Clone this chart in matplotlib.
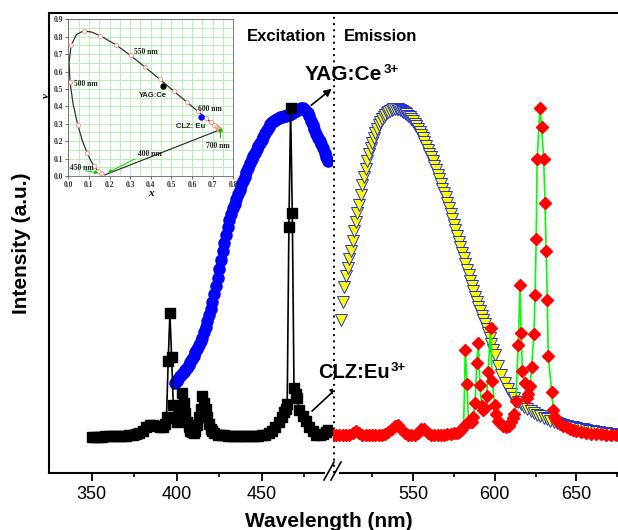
import numpy as np
import matplotlib
matplotlib.use('Agg')
import matplotlib.pyplot as plt
from matplotlib.lines import Line2D

plt.rcParams['font.family'] = ['Liberation Sans', 'DejaVu Sans']

# CLZ:Eu3+ excitation (black squares)
clz_ex_nm = [350, 352, 354, 356, 358, 360, 362, 364, 366, 368, 370, 372, 374, 376, 378,
             380, 382, 384, 386, 388, 390, 392,
             393, 394, 395, 396, 397, 398, 399,
             400, 401, 402, 403, 404, 405, 406, 407, 408, 409, 410,
             411, 412, 413, 414, 415, 416, 417, 418, 419, 420, 421, 422,
             424, 426, 428, 430, 432, 434, 436, 438, 440, 442, 444, 446, 448, 450, 452, 454, 456, 458, 460, 462,
             463, 464, 465, 466, 467, 468, 469, 470, 471, 472,
             474, 476, 478, 480, 482, 484, 486, 488, 489]
clz_ex = [0.0, 0.0, 0.001, 0.001, 0.002, 0.002, 0.003, 0.003, 0.003, 0.004, 0.004, 0.005, 0.007, 0.009, 0.012,
          0.02, 0.03, 0.036, 0.037, 0.035, 0.03, 0.032,
          0.04, 0.061, 0.231, 0.377, 0.243, 0.097, 0.058,
          0.045, 0.062, 0.085, 0.134, 0.103, 0.073, 0.045, 0.03, 0.02, 0.015, 0.014,
          0.02, 0.036, 0.06, 0.085, 0.125, 0.105, 0.085, 0.061, 0.04, 0.025, 0.018, 0.012,
          0.008, 0.006, 0.005, 0.004, 0.004, 0.003, 0.003, 0.003, 0.003, 0.003, 0.003, 0.004, 0.004, 0.005,
          0.008, 0.012, 0.02, 0.03, 0.045, 0.062,
          0.076, 0.085, 0.10, 0.64, 1.0, 0.68, 0.149, 0.13, 0.118, 0.082,
          0.065, 0.05, 0.03, 0.018, 0.008, 0.006, 0.01, 0.015, 0.021]

# YAG:Ce3+ excitation (blue circles)
yag_ex_nm = list(range(399, 490))
yag_ex = [0.164, 0.171, 0.178, 0.185, 0.192, 0.198, 0.204, 0.211, 0.218, 0.227,
          0.236, 0.247, 0.258, 0.269, 0.28, 0.291, 0.302, 0.318, 0.335, 0.353,
          0.371, 0.39, 0.41, 0.435, 0.46, 0.485, 0.51, 0.538, 0.565, 0.59,
          0.615, 0.638, 0.66, 0.678, 0.695, 0.71, 0.725, 0.738, 0.751, 0.765,
          0.778, 0.792, 0.805, 0.819, 0.833, 0.844, 0.855, 0.865, 0.875, 0.885,
          0.894, 0.903, 0.912, 0.923, 0.933, 0.943, 0.952, 0.957, 0.962, 0.965,
          0.968, 0.97, 0.972, 0.974, 0.975, 0.977, 0.978, 0.98, 0.983, 0.985,
          0.988, 0.991, 0.994, 0.997, 1.0, 1.0, 0.998, 0.992, 0.985, 0.975,
          0.962, 0.949, 0.935, 0.922, 0.91, 0.9, 0.89, 0.878, 0.865, 0.852,
          0.84]

# YAG:Ce3+ emission (yellow triangles)
yag_em_nm = list(range(506, 601)) + list(range(602, 681, 2))
yag_em = [0.356, 0.41, 0.455, 0.49, 0.515, 0.54, 0.565, 0.595, 0.625, 0.655,
          0.68, 0.705, 0.735, 0.765, 0.79, 0.815, 0.84, 0.86, 0.878, 0.895,
          0.91, 0.925, 0.937, 0.948, 0.958, 0.966, 0.974, 0.98, 0.985, 0.989,
          0.992, 0.994, 0.996, 0.997, 0.997, 0.996, 0.994, 0.992, 0.989, 0.986,
          0.982, 0.977, 0.972, 0.966, 0.96, 0.953, 0.945, 0.937, 0.928, 0.918,
          0.908, 0.897, 0.886, 0.874, 0.862, 0.85, 0.838, 0.825, 0.812, 0.798,
          0.784, 0.77, 0.755, 0.742, 0.73, 0.713, 0.696, 0.679, 0.662, 0.645,
          0.628, 0.611, 0.594, 0.577, 0.56, 0.543, 0.526, 0.509, 0.492, 0.475,
          0.459, 0.443, 0.427, 0.411, 0.395, 0.382, 0.369, 0.356, 0.343, 0.33,
          0.315, 0.30, 0.283, 0.266, 0.25,
          0.217, 0.19, 0.165, 0.146, 0.13, 0.118, 0.108, 0.1, 0.092, 0.085,
          0.079, 0.073, 0.068, 0.063, 0.058, 0.054, 0.05, 0.046, 0.043, 0.04,
          0.037, 0.035, 0.032, 0.03, 0.028, 0.026, 0.024, 0.022, 0.02, 0.018,
          0.017, 0.015, 0.014, 0.013, 0.011, 0.01, 0.008, 0.007, 0.006, 0.005]

# CLZ:Eu3+ emission (red diamonds)
clz_em_nm = list(range(501, 578, 2)) + [
    578, 579, 580, 581, 582, 583, 584, 585, 586, 587,
    588, 589, 590, 591, 592, 593, 594, 595, 596, 597.5,
    598.5, 600, 601, 602, 603, 605, 607, 609, 610, 611,
    612, 613, 614.4, 615.5, 616.2, 617, 618.5, 619.5, 620.5, 621.6,
    622.6, 624.0, 624.7, 625.4, 626.0, 627.7, 628.7, 630.0, 630.8, 631.5,
    632.2, 632.8, 634.9, 635.9, 637, 638, 640, 642, 644, 646,
    648, 650, 653, 656, 659, 662, 665, 668, 671, 674, 677, 680]
clz_em = [0.008, 0.006, 0.006, 0.005, 0.006, 0.008, 0.012, 0.018, 0.012, 0.008,
          0.006, 0.006, 0.007, 0.006, 0.006, 0.008, 0.01, 0.015, 0.025, 0.035,
          0.036, 0.022, 0.012, 0.008, 0.007, 0.008, 0.012, 0.024, 0.026, 0.012,
          0.008, 0.007, 0.007, 0.007, 0.008, 0.009, 0.01, 0.012, 0.014,
          0.016, 0.02, 0.025, 0.035, 0.264, 0.163, 0.05, 0.045, 0.047, 0.06,
          0.103, 0.226, 0.287, 0.158, 0.095, 0.082, 0.09, 0.124, 0.198, 0.331,
          0.17, 0.097, 0.07, 0.05, 0.042, 0.035, 0.031, 0.035, 0.045, 0.058,
          0.07, 0.11, 0.28, 0.462, 0.316, 0.2, 0.164, 0.12, 0.13, 0.155,
          0.213, 0.313, 0.432, 0.601, 0.844, 1.0, 0.943, 0.844, 0.711, 0.566,
          0.416, 0.246, 0.138, 0.082, 0.06, 0.05, 0.04, 0.035, 0.03, 0.026,
          0.022, 0.018, 0.015, 0.013, 0.011, 0.01, 0.009, 0.008, 0.008, 0.007, 0.007, 0.007]

# CIE 1931 spectral locus for the inset
cie_nm = [380, 390, 400, 410, 420, 430, 440, 450, 460, 465, 470, 475, 480, 485, 490, 495, 500,
          505, 510, 515, 520, 525, 530, 540, 550, 560, 570, 580, 590, 600, 610, 620, 630,
          640, 650, 660, 670, 680, 690, 700]
cie_x = [0.1741, 0.1738, 0.1733, 0.1726, 0.1714, 0.1689, 0.1644, 0.1566, 0.1440, 0.1355, 0.1241,
         0.1096, 0.0913, 0.0687, 0.0454, 0.0235, 0.0082, 0.0039, 0.0139, 0.0389, 0.0743, 0.1142,
         0.1547, 0.2296, 0.3016, 0.3731, 0.4441, 0.5125, 0.5752, 0.6270, 0.6658, 0.6915, 0.7079,
         0.7190, 0.7260, 0.7300, 0.7320, 0.7334, 0.7344, 0.7347]
cie_y = [0.0050, 0.0049, 0.0048, 0.0048, 0.0051, 0.0069, 0.0109, 0.0177, 0.0297, 0.0399, 0.0578,
         0.0868, 0.1327, 0.2007, 0.2950, 0.4127, 0.5384, 0.6548, 0.7502, 0.8120, 0.8338, 0.8262,
         0.8059, 0.7543, 0.6923, 0.6245, 0.5547, 0.4866, 0.4242, 0.3725, 0.3340, 0.3083, 0.2920,
         0.2809, 0.2740, 0.2700, 0.2680, 0.2666, 0.2656, 0.2653]
yag_xy = (0.458, 0.519)
clz_xy = (0.643, 0.337)

W, H = 618, 530
fig = plt.figure(figsize=(6.18, 5.30), dpi=100)

def fx(px):
    return px / W

def fy(py):
    return 1 - py / H

ylim = (-0.109, 1.289)
ax1 = fig.add_axes([fx(49), fy(473), fx(333) - fx(49), fy(13) - fy(473)])
ax2 = fig.add_axes([fx(333), fy(473), fx(626) - fx(333), fy(13) - fy(473)])

ax1.plot(yag_ex_nm, yag_ex, 'o', color='blue', ms=8, mec='blue', zorder=2)
ax1.plot(clz_ex_nm, clz_ex, '-', color='black', lw=1.2, marker='s', ms=6.5, zorder=3)

ax2.plot(yag_em_nm, yag_em, 'v', ms=8.5, mfc='#ffff00', mec='#2030e0', mew=0.7, ls='none', zorder=2)
ax2.plot(clz_em_nm, clz_em, '-', color='#00ff00', lw=1.2, marker='D', ms=6.5,
         mfc='red', mec='red', zorder=3)

ax1.set_xlim(350 - (91.7 - 49) / 1.7, 350 + (333 - 91.7) / 1.7)
ax2.set_xlim(550 - (413 - 333) / 1.634, 550 + (626 - 413) / 1.634)
for ax in (ax1, ax2):
    ax.set_ylim(*ylim)
    ax.set_yticks([])
    ax.spines['right'].set_visible(False)
    for s in ('top', 'bottom', 'left'):
        ax.spines[s].set_linewidth(1.5)
    ax.tick_params(axis='x', which='major', direction='out', length=5.5, width=1.3,
                   labelsize=13, pad=4)
    ax.tick_params(axis='x', which='minor', direction='out', length=3, width=1.2)
ax2.spines['left'].set_visible(False)

ax1.set_xticks([350, 400, 450])
ax1.set_xticks([375, 425, 475], minor=True)
ax2.set_xticks([550, 600, 650])
ax2.set_xticks([525, 575, 625, 675], minor=True)
ax1.spines['bottom'].set_bounds(ax1.get_xlim()[0], 350 + (324 - 91.7) / 1.7)
ax2.spines['bottom'].set_bounds(550 - (413 - 340) / 1.634, ax2.get_xlim()[1])

# dotted divider between excitation and emission
ax2.axvline(550 - (413 - 334) / 1.634, color='black', ls=(0, (1, 2.2)), lw=1.4, clip_on=False)

# axis break marks
for x0 in (324, 331):
    fig.add_artist(Line2D([fx(x0), fx(x0 + 10)], [fy(480), fy(462)], color='black', lw=1.2))

fig.text(fx(22), fy(243), 'Intensity (a.u.)', rotation=90, ha='center', va='center',
         fontsize=15, fontweight='bold')
fig.text(fx(329), fy(527), 'Wavelength (nm)', ha='center', va='baseline',
         fontsize=15, fontweight='bold')

fig.text(fx(247), fy(41), 'Excitation', fontsize=12, fontweight='bold', va='baseline')
fig.text(fx(344), fy(41), 'Emission', fontsize=12, fontweight='bold', va='baseline')
t_yag = fig.text(fx(305), fy(80), 'YAG:Ce', fontsize=15, fontweight='bold', va='baseline')
t_clz = fig.text(fx(318), fy(378), 'CLZ:Eu', fontsize=14.5, fontweight='bold', va='baseline')

# superscripts placed right after the measured label extents
fig.canvas.draw()
for t, top_px in ((t_yag, 64), (t_clz, 362)):
    bb = t.get_window_extent()
    fig.text(bb.x1 / (fig.dpi * fig.get_figwidth()) + fx(1), fy(top_px), '3+',
             ha='left', va='top', fontsize=9.5, fontweight='bold')

arrows = [((309, 107), (334, 87)), ((381, 109), (346, 87)),
          ((310, 413), (340, 385)), ((368, 429), (352, 387))]
for (tx, ty), (hx, hy) in arrows:
    ax1.annotate('', xy=(fx(hx), fy(hy)), xytext=(fx(tx), fy(ty)),
                 xycoords='figure fraction', textcoords='figure fraction',
                 arrowprops=dict(arrowstyle='-|>', color='black', lw=1.2, mutation_scale=11))

# inset: CIE chromaticity diagram
ins = fig.add_axes([fx(68.3), fy(176), fx(233.3) - fx(68.3), fy(19.3) - fy(176)])
ins.set_xlim(0, 0.8)
ins.set_ylim(0, 0.9)
ins.set_xticks(np.arange(0, 0.81, 0.1))
ins.set_yticks(np.arange(0, 0.91, 0.1))
ins.set_xticks(np.arange(0, 0.81, 0.05), minor=True)
ins.set_yticks(np.arange(0, 0.91, 0.05), minor=True)
ins.grid(which='both', color='#a8f0a8', lw=0.6)
ins.set_axisbelow(True)
ins.set_xticklabels(['%.1f' % v for v in np.arange(0, 0.81, 0.1)])
ins.set_yticklabels(['%.1f' % v for v in np.arange(0, 0.91, 0.1)])
for lab in ins.get_xticklabels() + ins.get_yticklabels():
    lab.set_family('Liberation Serif')
    lab.set_fontweight('bold')
ins.tick_params(which='major', labelsize=5.5, length=2, width=0.5, pad=1.5, colors='#333333')
ins.tick_params(which='minor', length=0)
for s in ins.spines.values():
    s.set_linewidth(0.6)
    s.set_color('#666666')
ins.set_xlabel('x', family='Liberation Serif', style='italic', fontweight='bold', fontsize=8, labelpad=0)
ins.set_ylabel('y', family='Liberation Serif', style='italic', fontweight='bold', fontsize=8, labelpad=1)

ins.plot(cie_x, cie_y, '-', color='#333333', lw=0.9)
ins.plot([cie_x[0], cie_x[-1]], [cie_y[0], cie_y[-1]], '-', color='#222222', lw=0.8)
mk = [i for i, n in enumerate(cie_nm) if n % 10 == 0 and 440 <= n <= 700]
ins.plot([cie_x[i] for i in mk], [cie_y[i] for i in mk], 'o', ms=3, mfc='white',
         mec='#ff8888', mew=0.6, ls='none')
ins.plot([cie_x[-1], cie_x[-1]], [cie_y[-1], 0.225], color='#00cc00', lw=0.8)
ins.plot(cie_x[-1], cie_y[-1], 's', ms=1.8, color='#00cc00')
ins.plot(*yag_xy, 'o', ms=3.5, color='black')
ins.plot(*clz_xy, 'o', ms=3.5, color='blue')
ins.annotate('', xy=(0.18, 0.012), xytext=(0.335, 0.105),
             arrowprops=dict(arrowstyle='-|>', color='#00cc00', lw=0.7, mutation_scale=5))
ins.annotate('', xy=(0.16, 0.016), xytext=(0.07, 0.032),
             arrowprops=dict(arrowstyle='-|>', color='#00cc00', lw=0.7, mutation_scale=5))

serif = dict(family='Liberation Serif', fontweight='bold', fontsize=5.5, color='#222222')
ins.text(0.32, 0.714, '550 nm', va='center', **serif)
ins.text(0.028, 0.527, '500 nm', va='center', **serif)
ins.text(0.63, 0.383, '600 nm', va='center', **serif)
ins.text(0.668, 0.172, '700 nm', va='center', **serif)
ins.text(0.34, 0.125, '400 nm', va='center', **serif)
ins.text(0.008, 0.044, '450 nm', va='center', **serif)
ins.text(0.344, 0.465, 'YAG:Ce', va='center', fontsize=5.5, fontweight='bold', color='#222222')
ins.text(0.52, 0.283, 'CLZ: Eu', va='center', fontsize=5.5, fontweight='bold', color='#222222')

fig.savefig('out.png', dpi=100)
